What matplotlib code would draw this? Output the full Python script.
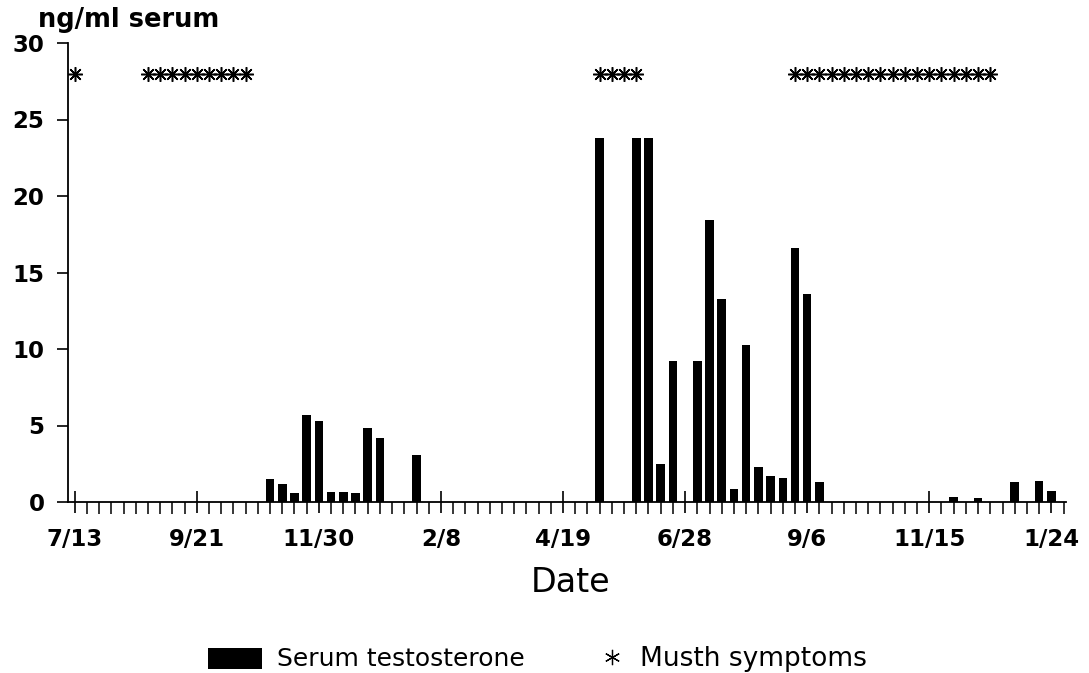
import matplotlib
matplotlib.use("Agg")
import matplotlib.pyplot as plt
from matplotlib.ticker import MultipleLocator, FixedLocator
from matplotlib.patches import Rectangle
from matplotlib.lines import Line2D

# ---- data (x = weeks since 7/13) ----
bar_weeks = [16, 17, 18, 19, 20, 21, 22, 23, 24, 25, 28,
             43, 46, 47, 48, 49, 51, 52, 53, 54, 55, 56, 57, 58, 59, 60, 61,
             72, 74, 77, 79, 80]
testosterone = [1.5, 1.15, 0.6, 5.7, 5.3, 0.65, 0.65, 0.6, 4.85, 4.2, 3.05,
                23.8, 23.8, 23.8, 2.5, 9.2, 9.2, 18.4, 13.25, 0.85, 10.25, 2.3, 1.7, 1.55, 16.6, 13.6, 1.3,
                0.3, 0.27, 1.3, 1.4, 0.7]
musth_weeks = [0,
               6, 7, 8, 9, 10, 11, 12, 13, 14,
               43, 44, 45, 46,
               59, 60, 61, 62, 63, 64, 65, 66, 67, 68, 69, 70, 71, 72, 73, 74, 75]
musth_level = 28
tick_weeks = [0, 10, 20, 30, 40, 50, 60, 70, 80]
tick_labels = ["7/13", "9/21", "11/30", "2/8", "4/19", "6/28", "9/6", "11/15", "1/24"]
y_ticks = [0, 5, 10, 15, 20, 25, 30]

W, H = 1089, 673
fig = plt.figure(figsize=(W / 100, H / 100), dpi=100)
ax = fig.add_axes([68 / W, 1 - 502 / H, (1066 - 68) / W, (502 - 43) / H])

ax.bar(bar_weeks, testosterone, width=0.7, color="black", edgecolor="none", zorder=2)
ax.plot(musth_weeks, [musth_level] * len(musth_weeks), linestyle="none",
        marker=(8, 2, 0), markersize=10.5, markeredgewidth=1.1, color="black", zorder=3)

ax.set_xlim(-0.55, 81.2)
ax.set_ylim(0, 30)
for s in ["top", "right"]:
    ax.spines[s].set_visible(False)
for s in ["left", "bottom"]:
    ax.spines[s].set_linewidth(1.3)

ax.xaxis.set_major_locator(FixedLocator(tick_weeks))
ax.xaxis.set_minor_locator(MultipleLocator(1))
ax.set_xticklabels(tick_labels)
ax.set_yticks(y_ticks)

ax.tick_params(axis="x", which="major", direction="inout", length=16, width=1.2, pad=11)
ax.tick_params(axis="x", which="minor", direction="out", length=8.5, width=1.1)
ax.tick_params(axis="y", which="major", direction="out", length=8, width=1.2, pad=9)
for lab in ax.get_xticklabels() + ax.get_yticklabels():
    lab.set_fontfamily("DejaVu Sans")
    lab.set_fontweight("bold")
    lab.set_fontsize(16.5)

fig.text(38 / W, 1 - 27 / H, "ng/ml serum", ha="left", va="baseline",
         family="DejaVu Sans", weight="bold", size=18.5)
fig.text(571 / W, 1 - 592 / H, "Date", ha="center", va="baseline",
         family="DejaVu Sans", size=24)

# legend (drawn manually to match layout)
fig.patches.append(Rectangle((208 / W, 1 - 669 / H), 54 / W, 21 / H,
                             transform=fig.transFigure, facecolor="black", edgecolor="none"))
fig.text(277 / W, 1 - 666 / H, "Serum testosterone", ha="left", va="baseline",
         family="DejaVu Sans", size=18)
fig.lines.append(Line2D([612 / W], [1 - 657 / H], transform=fig.transFigure,
                        marker=(6, 2, 0), markersize=11, markeredgewidth=0.9,
                        color="black", linestyle="none"))
fig.text(640 / W, 1 - 666 / H, "Musth symptoms", ha="left", va="baseline",
         family="DejaVu Sans", size=19)

fig.savefig("out.png", dpi=100)
